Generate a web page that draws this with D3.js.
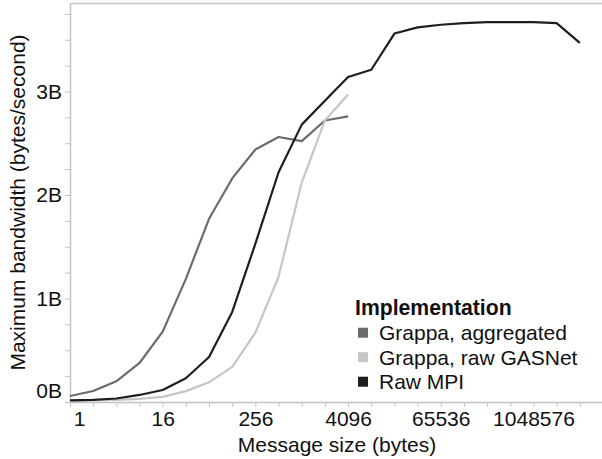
<!DOCTYPE html>
<html>
<head>
<meta charset="utf-8">
<script src="https://cdn.jsdelivr.net/npm/d3@7"></script>
<style>
  html, body { margin: 0; padding: 0; background: #fff; }
  svg { display: block; font-family: "Liberation Sans", Arial, sans-serif; }
</style>
</head>
<body>
<svg id="chart" width="602" height="459"></svg>
<script>
// Message sizes in bytes (powers of two)
const sizesMPI = [1,2,4,8,16,32,64,128,256,512,1024,2048,4096,8192,16384,32768,65536,131072,262144,524288,1048576,2097152,4194304];
const sizesGrappa = [1,2,4,8,16,32,64,128,256,512,1024,2048,4096];

// Maximum bandwidth, billions of bytes per second
const aggregated = [0.058,0.106,0.2,0.377,0.68,1.19,1.77,2.16,2.44,2.56,2.52,2.72,2.76];
const rawGASNet  = [0.01,0.015,0.02,0.03,0.05,0.105,0.19,0.34,0.67,1.21,2.12,2.72,2.97];
const rawMPI     = [0.015,0.02,0.034,0.068,0.116,0.23,0.435,0.87,1.53,2.22,2.68,2.91,3.14,3.21,3.56,3.62,3.645,3.66,3.67,3.67,3.67,3.66,3.47];

const seriesNames  = ["Grappa, aggregated", "Grappa, raw GASNet", "Raw MPI"];
const seriesColors = ["#6b6b6b", "#c6c6c6", "#1e1e1e"];

const xTickValues = [1, 16, 256, 4096, 65536, 1048576];
const yTickValues = [0, 1, 2, 3];
const yTickLabels = ["0B", "1B", "2B", "3B"];

const series = [
  { name: seriesNames[0], color: seriesColors[0], sizes: sizesGrappa, values: aggregated },
  { name: seriesNames[1], color: seriesColors[1], sizes: sizesGrappa, values: rawGASNet },
  { name: seriesNames[2], color: seriesColors[2], sizes: sizesMPI,    values: rawMPI }
];

const svg = d3.select("#chart");
const plotLeft = 70, plotRight = 603, plotTop = 3, plotBottom = 402;
const axisColor = "#c4c4c4";
const fontSize = 21;

const x = d3.scaleLog().base(2).domain([1, Math.pow(2, 23)]).range([plotLeft, plotRight]);
const y = d3.scaleLinear().domain([0, 3.855]).range([plotBottom, plotTop]);

// Top border of the plot frame
svg.append("line")
  .attr("x1", plotLeft).attr("x2", 602).attr("y1", plotTop + 0.5).attr("y2", plotTop + 0.5)
  .attr("stroke", axisColor).attr("stroke-width", 1.5);

// X axis: a minor tick at every power of two, labels every fourth
const xMinor = d3.range(0, 24).map(p => Math.pow(2, p));
const xAxis = d3.axisBottom(x).tickValues(xMinor).tickSize(5).tickSizeOuter(0)
  .tickFormat(d => xTickValues.includes(d) ? String(d) : "");
const gx = svg.append("g").attr("transform", `translate(0,${plotBottom})`).call(xAxis);
gx.select(".domain").attr("stroke", axisColor).attr("stroke-width", 1.5);
gx.selectAll(".tick line").attr("stroke", axisColor);
gx.selectAll(".tick text")
  .attr("font-size", fontSize).attr("fill", "#111").attr("y", 9)
  .attr("font-family", "Liberation Sans, Arial, sans-serif")
  .attr("dy", "0.71em")
  .attr("dx", d => d === 1 ? 9 : 0);

// Y axis: minor ticks every quarter billion
const yMinor = d3.range(0, 16).map(i => i * 0.25);
const yAxis = d3.axisLeft(y).tickValues(yMinor).tickSize(5).tickSizeOuter(0)
  .tickFormat(d => { const i = yTickValues.indexOf(d); return i >= 0 ? yTickLabels[i] : ""; });
const gy = svg.append("g").attr("transform", `translate(${plotLeft},0)`).call(yAxis);
gy.select(".domain").attr("stroke", axisColor).attr("stroke-width", 1.5);
gy.selectAll(".tick line").attr("stroke", axisColor);
gy.selectAll(".tick text")
  .attr("font-size", fontSize).attr("fill", "#111").attr("x", -8)
  .attr("font-family", "Liberation Sans, Arial, sans-serif")
  .attr("dy", d => d === 0 ? "-0.2em" : "0.32em");

// Lines
const line = d3.line().x(d => x(d[0])).y(d => y(d[1]));
svg.append("g").selectAll("path")
  .data(series)
  .join("path")
  .attr("d", s => line(s.sizes.map((v, i) => [v, s.values[i]])))
  .attr("fill", "none")
  .attr("stroke", s => s.color)
  .attr("stroke-width", 2.2)
  .attr("stroke-linejoin", "round");

// Axis titles
svg.append("text")
  .attr("x", (plotLeft + 602) / 2 + 1).attr("y", 452)
  .attr("text-anchor", "middle").attr("font-size", fontSize).attr("fill", "#111")
  .text("Message size (bytes)");

svg.append("text")
  .attr("transform", `translate(25,${(plotTop + plotBottom) / 2}) rotate(-90)`)
  .attr("text-anchor", "middle").attr("font-size", fontSize).attr("fill", "#111")
  .text("Maximum bandwidth (bytes/second)");

// Legend
const legend = svg.append("g").attr("transform", "translate(355,0)");
legend.append("text")
  .attr("x", 0).attr("y", 314.5)
  .attr("font-size", 21.2).attr("font-weight", "bold").attr("fill", "#111")
  .text("Implementation");
const items = legend.selectAll("g.item")
  .data(series)
  .join("g").attr("class", "item")
  .attr("transform", (d, i) => `translate(0,${332.7 + i * 24.5})`);
items.append("rect")
  .attr("x", 3).attr("y", -5).attr("width", 10).attr("height", 10)
  .attr("fill", d => d.color);
items.append("text")
  .attr("x", 24).attr("y", 7.3)
  .attr("font-size", fontSize).attr("fill", "#111")
  .text(d => d.name);
</script>
</body>
</html>
